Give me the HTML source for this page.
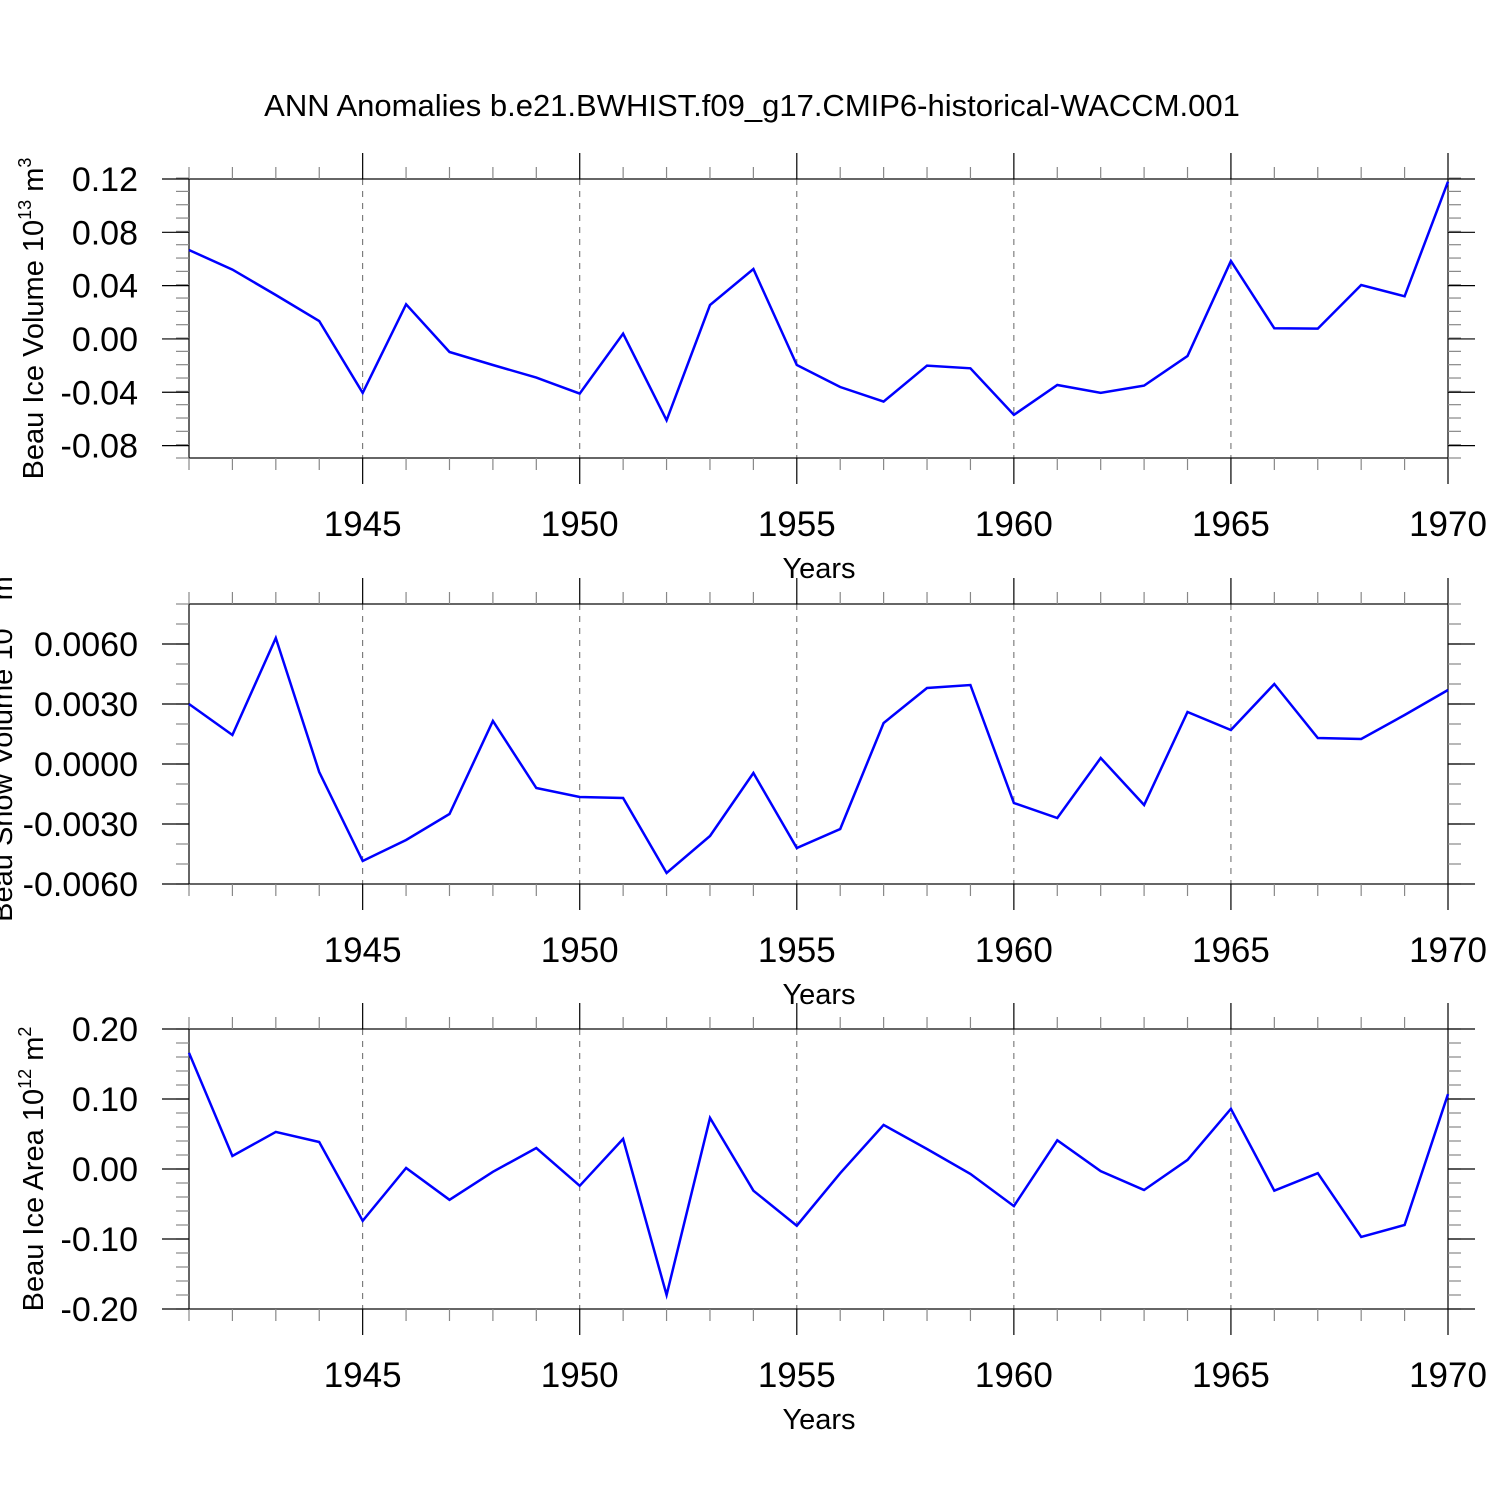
<!DOCTYPE html>
<html><head><meta charset="utf-8"><style>
body{margin:0;background:#fff;}
svg text{font-family:"Liberation Sans",Helvetica,Arial,sans-serif;fill:#000;}
</style></head><body>
<svg id="chart" width="1500" height="1500" viewBox="0 0 1500 1500" xmlns="http://www.w3.org/2000/svg">
<rect width="1500" height="1500" fill="#fff"/>
<text x="752" y="116" font-size="31" text-anchor="middle">ANN Anomalies b.e21.BWHIST.f09_g17.CMIP6-historical-WACCM.001</text>
</svg>
<script>
const years = [1941,1942,1943,1944,1945,1946,1947,1948,1949,1950,1951,1952,1953,1954,1955,1956,1957,1958,1959,1960,1961,1962,1963,1964,1965,1966,1967,1968,1969,1970];
const iceVolume = [0.0667,0.052,0.033,0.0135,-0.0405,0.026,-0.0098,-0.0195,-0.029,-0.041,0.004,-0.061,0.0255,0.0525,-0.0195,-0.036,-0.047,-0.020,-0.022,-0.057,-0.0345,-0.0405,-0.035,-0.0128,0.0585,0.008,0.0078,0.0405,0.032,0.118];
const snowVolume = [0.0030,0.00145,0.0063,-0.0004,-0.00485,-0.0038,-0.0025,0.00215,-0.0012,-0.00165,-0.0017,-0.00545,-0.0036,-0.00045,-0.0042,-0.00325,0.00205,0.0038,0.00395,-0.00195,-0.0027,0.0003,-0.00205,0.0026,0.0017,0.004,0.0013,0.00125,0.00245,0.0037];
const iceArea = [0.166,0.0186,0.053,0.0386,-0.074,0.0014,-0.044,-0.004,0.03,-0.024,0.043,-0.18,0.073,-0.031,-0.081,-0.006,0.063,0.0286,-0.007,-0.053,0.041,-0.003,-0.03,0.013,0.086,-0.031,-0.006,-0.097,-0.08,0.107];
const xTickYears = [1945,1950,1955,1960,1965,1970];
const volTicks = [0.12,0.08,0.04,0.00,-0.04,-0.08];
const volTickLabels = ["0.12","0.08","0.04","0.00","-0.04","-0.08"];
const snowTicks = [0.006,0.003,0,-0.003,-0.006];
const snowTickLabels = ["0.0060","0.0030","0.0000","-0.0030","-0.0060"];
const areaTicks = [0.2,0.1,0,-0.1,-0.2];
const areaTickLabels = ["0.20","0.10","0.00","-0.10","-0.20"];

const NS="http://www.w3.org/2000/svg";
const svg=document.getElementById('chart');
const X0=189,X1=1448;
function xs(yr){return X0+(yr-1941)/(1970-1941)*(X1-X0);}
function mk(tag,attrs,parent){const e=document.createElementNS(NS,tag);for(const k in attrs)e.setAttribute(k,attrs[k]);(parent||svg).appendChild(e);return e;}

function panel(name,top,bottom,ymin,ymax,ticks,labels,minorStep,values,ylabelHtml,ylabX){
  const g=mk('g',{});
  
  
  const ys=v=>bottom-(v-ymin)/(ymax-ymin)*(bottom-top);
  xTickYears.forEach(yr=>{if(yr<1970){const l=mk('line',{x1:xs(yr),x2:xs(yr),y1:top,y2:bottom,stroke:'#666','stroke-width':1,'stroke-dasharray':'6,6'},g);
    
    }});
  const b=mk('rect',{x:X0,y:top,width:X1-X0,height:bottom-top,fill:'none',stroke:'#000','stroke-width':1.2},g);
  
  
  for(let yr=1941;yr<=1970;yr++){
    const maj=yr%5===0; const L=maj?26:12; const x=xs(yr);
    mk('line',{x1:x,x2:x,y1:top,y2:top-L,stroke:maj?'#000':'#888','stroke-width':1.2},g);
    mk('line',{x1:x,x2:x,y1:bottom,y2:bottom+L,stroke:maj?'#000':'#888','stroke-width':1.2},g);
  }
  const n=Math.round((ymax-ymin)/minorStep);
  for(let i=0;i<=n;i++){const v=ymin+i*minorStep;const y=ys(v);
    mk('line',{x1:X0,x2:X0-13,y1:y,y2:y,stroke:'#888','stroke-width':1.2},g);
    mk('line',{x1:X1,x2:X1+13,y1:y,y2:y,stroke:'#888','stroke-width':1.2},g);}
  ticks.forEach((v,i)=>{const y=ys(v);
    mk('line',{x1:X0,x2:X0-27,y1:y,y2:y,stroke:'#000','stroke-width':1.2},g);
    mk('line',{x1:X1,x2:X1+27,y1:y,y2:y,stroke:'#000','stroke-width':1.2},g);
    const t=mk('text',{x:138,y:y+12,'font-size':34,'text-anchor':'end'},g);
    
    
    t.textContent=labels[i];});
  xTickYears.forEach(yr=>{const t=mk('text',{x:xs(yr),y:bottom+78,'font-size':35,'text-anchor':'middle'},g);
    
    
    t.textContent=yr;});
  const xt=mk('text',{x:819,y:bottom+120,'font-size':29,'text-anchor':'middle'},g);
  
  
  xt.textContent='Years';
  const cy=(top+bottom)/2;
  const yt=mk('text',{x:0,y:0,'font-size':29,'text-anchor':'middle',transform:`translate(${ylabX},${cy}) rotate(-90)`},g);
  
  
  yt.innerHTML=ylabelHtml;
  const pts=years.map((yr,i)=>xs(yr).toFixed(1)+','+ys(values[i]).toFixed(1)).join(' ');
  const pl=mk('polyline',{points:pts,fill:'none',stroke:'#0000ff','stroke-width':2.5,'stroke-linejoin':'miter'},g);
  
  
}
panel('ice-volume',179,458,-0.0893,0.12,volTicks,volTickLabels,0.01,iceVolume,
 'Beau Ice Volume 10<tspan dy="-12" font-size="18">13</tspan><tspan dy="12"> m</tspan><tspan dy="-12" font-size="18">3</tspan>',43);
panel('snow-volume',604,884,-0.006,0.008,snowTicks,snowTickLabels,0.001,snowVolume,
 'Beau Snow Volume 10<tspan dy="-12" font-size="18">13</tspan><tspan dy="12"> m</tspan><tspan dy="-12" font-size="18">3</tspan>',12);
panel('ice-area',1029,1309,-0.2,0.2,areaTicks,areaTickLabels,0.02,iceArea,
 'Beau Ice Area 10<tspan dy="-12" font-size="18">12</tspan><tspan dy="12"> m</tspan><tspan dy="-12" font-size="18">2</tspan>',43);
</script>
</body></html>
